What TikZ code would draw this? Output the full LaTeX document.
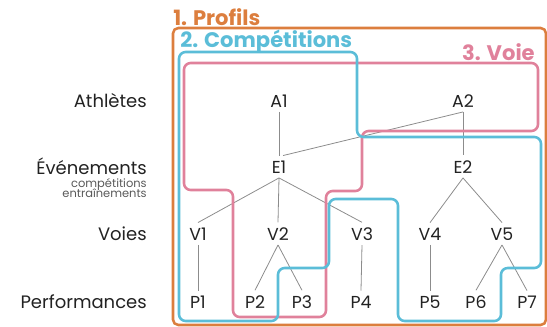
\documentclass[tikz,border=0pt]{standalone}
\usepackage{fontspec}
\setmainfont{Poppins}
\usetikzlibrary{calc}

\definecolor{profil}{HTML}{DC7E3E}
\definecolor{compet}{HTML}{5BBDD8}
\definecolor{voie}{HTML}{E0819B}
\definecolor{encre}{HTML}{222222}
\definecolor{trait}{HTML}{8C8C8C}

\tikzset{
  elem/.style={text=encre, anchor=base, inner sep=3.5pt, font=\fontsize{13}{13}\selectfont},
  niveau/.style={text=encre, anchor=base east, inner sep=0pt, font=\fontsize{13.5}{13.5}\selectfont},
  sousniveau/.style={text=encre!75, anchor=base east, inner sep=0pt, font=\fontsize{8.6}{8.6}\selectfont},
  titre/.style={inner sep=0pt, font=\fontsize{15.8}{15.8}\selectfont\bfseries},
  lien/.style={draw=trait, line width=0.6pt},
  cadre/.style={line width=1.9pt, rounded corners=5pt},
}

\begin{document}
\begin{tikzpicture}[x=0.75pt, y=-0.75pt]

    \useasboundingbox (0,0) rectangle (547,326);

    % niveaux
    \node[niveau] at (147,107) (nathl) {Athlètes};
    \node[niveau] at (147,174) (nevt) {Événements};
    \node[sousniveau] at (147,187) (ncomp) {compétitions};
    \node[sousniveau] at (147,197) (nentr) {entraînements};
    \node[niveau] at (147,240) (nvoie) {Voies};
    \node[niveau] at (147,308) (nperf) {Performances};

    % elements
    \node[elem] at (279,107) (A1) {A1};
    \node[elem] at (463,107) (A2) {A2};
    \node[elem] at (279,173) (E1) {E1};
    \node[elem] at (463,173) (E2) {E2};
    \node[elem] at (198,240) (V1) {V1};
    \node[elem] at (278,240) (V2) {V2};
    \node[elem] at (362,240) (V3) {V3};
    \node[elem] at (430,240) (V4) {V4};
    \node[elem] at (502,240) (V5) {V5};
    \node[elem] at (198,308) (P1) {P1};
    \node[elem] at (255,308) (P2) {P2};
    \node[elem] at (302,308) (P3) {P3};
    \node[elem] at (361,308) (P4) {P4};
    \node[elem] at (430,308) (P5) {P5};
    \node[elem] at (476,308) (P6) {P6};
    \node[elem] at (527,308) (P7) {P7};

    \draw[lien] (A1.south) -- (E1.north);
    \draw[lien] (A2.south) -- (E1.70);
    \draw[lien] (A2.south) -- (E2.north);
    \draw[lien] (E1.south) -- (V1.north);
    \draw[lien] (E1.south) -- (V2.north);
    \draw[lien] (E1.south) -- (V3.north);
    \draw[lien] (E2.south) -- (V4.north);
    \draw[lien] (E2.south) -- (V5.north);
    \draw[lien] (V1.south) -- (P1.north);
    \draw[lien] (V2.south) -- (P2.north);
    \draw[lien] (V2.south) -- (P3.north);
    \draw[lien] (V3.south) -- (P4.north);
    \draw[lien] (V4.south) -- (P5.north);
    \draw[lien] (V5.south) -- (P6.north);
    \draw[lien] (V5.south) -- (P7.north);

    % cadres
    \draw[cadre, profil, rounded corners=4pt] (173,28) rectangle (546,325);
    \draw[cadre, voie] (184,63) -- (538,63) -- (538,131) -- (362,131) -- (362,191)
        -- (326,191) -- (326,317) -- (233,317) -- (233,190) -- (184,190) -- cycle;
    \draw[cadre, compet] (179,52) -- (357,52) -- (357,137) -- (541,137) -- (541,268)
        -- (501,268) -- (501,321) -- (398,321) -- (398,199) -- (329,199) -- (329,268)
        -- (278,268) -- (278,321) -- (179,321) -- cycle;

    \node[titre, profil, anchor=base west] at (173,25) (tprofil) {1. Profils};
    \node[titre, compet, anchor=base west] at (180,47) (tcompet) {2. Compétitions};
    \node[titre, voie, anchor=base east] at (535,60) (tvoie) {3. Voie};

\end{tikzpicture}
\end{document}
